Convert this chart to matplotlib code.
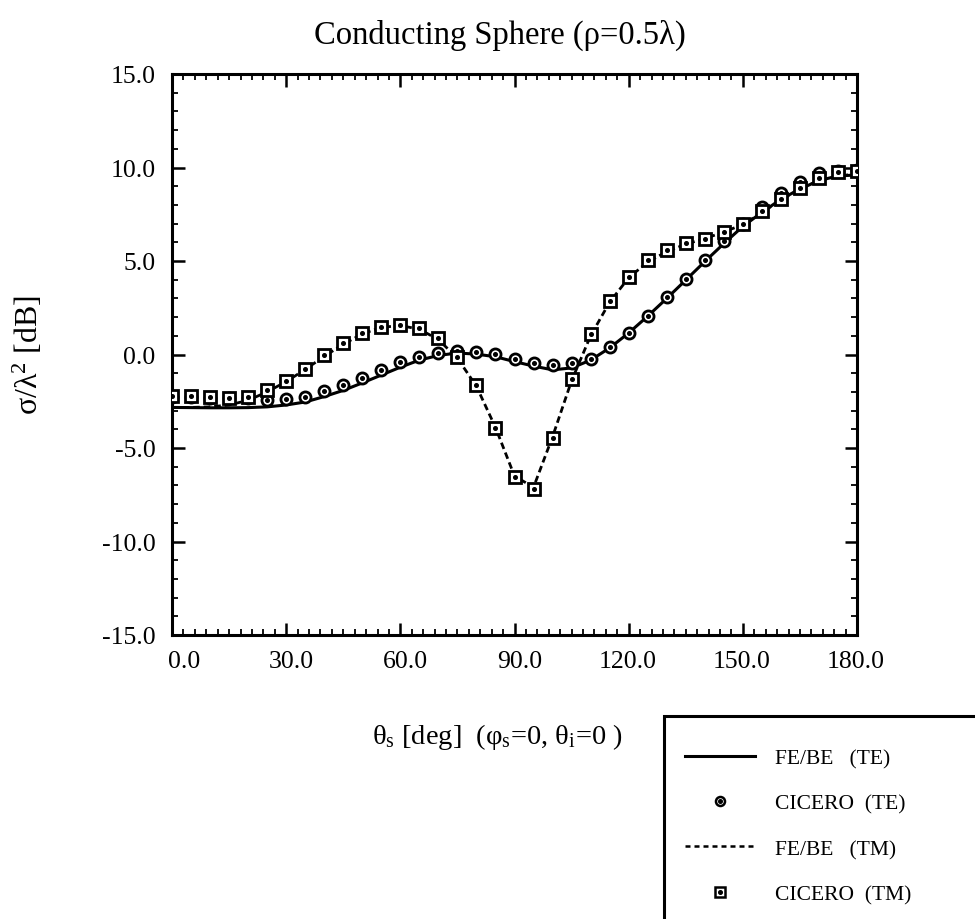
import matplotlib
matplotlib.use("Agg")
import matplotlib.pyplot as plt
import matplotlib.transforms as mtransforms
from matplotlib.lines import Line2D
from matplotlib.patches import Rectangle
from matplotlib.ticker import MultipleLocator, FormatStrFormatter

plt.rcParams['font.family'] = ['Liberation Serif', 'DejaVu Serif']
plt.rcParams['mathtext.fontset'] = 'custom'
plt.rcParams['mathtext.rm'] = 'Liberation Serif'
plt.rcParams['mathtext.it'] = 'Liberation Serif:italic'

# scattering angle, every 5 degrees
theta = list(range(0, 181, 5))

# FE/BE (TE) - solid line
te_febe = [-2.83, -2.84, -2.85, -2.85, -2.84, -2.80, -2.70, -2.54, -2.25, -1.92,
           -1.52, -1.10, -0.68, -0.30, -0.05, 0.08, 0.02, -0.12, -0.38, -0.62,
           -0.82, -0.72, -0.30, 0.35, 1.15, 2.05, 3.00, 3.98, 4.97, 5.93,
           6.85, 7.60, 8.30, 8.85, 9.30, 9.55, 9.60]

# CICERO (TE) - circles
te_cicero = [-2.26, -2.26, -2.31, -2.35, -2.30, -2.45, -2.38, -2.26, -1.97, -1.65,
             -1.24, -0.84, -0.41, -0.14, 0.09, 0.18, 0.14, 0.03, -0.23, -0.44,
             -0.57, -0.48, -0.23, 0.39, 1.16, 2.08, 3.06, 4.06, 5.07, 6.05,
             6.97, 7.91, 8.63, 9.25, 9.69, 9.82, 9.85]

# FE/BE (TM) - dashed line
tm_febe = [-2.83, -2.83, -2.80, -2.70, -2.45, -2.00, -1.45, -0.80, -0.10, 0.55,
           1.10, 1.45, 1.55, 1.35, 0.80, -0.20, -1.70, -3.90, -6.50, -7.10,
           -4.40, -1.40, 1.00, 2.80, 4.10, 4.95, 5.50, 5.90, 6.20, 6.55,
           6.95, 7.60, 8.25, 8.85, 9.30, 9.55, 9.65]

# CICERO (TM) - squares
tm_cicero = [-2.22, -2.24, -2.28, -2.33, -2.25, -1.92, -1.41, -0.77, -0.04, 0.62,
             1.16, 1.49, 1.60, 1.40, 0.87, -0.11, -1.65, -3.91, -6.55, -7.20,
             -4.46, -1.33, 1.12, 2.88, 4.16, 5.03, 5.57, 5.96, 6.19, 6.53,
             6.97, 7.65, 8.31, 8.93, 9.46, 9.78, 9.80]

fig = plt.figure(figsize=(9.75, 9.2), dpi=100)
ax = fig.add_axes([172/975, 1-636/920, 685/975, 561/920])

dash = (0, (2.4, 1.4))
ax.plot(theta, te_febe, color='black', lw=2.2, zorder=2)
ax.plot(theta, tm_febe, color='black', lw=2.0, linestyle=dash, zorder=2)

# markers: open symbol with a small dot in the middle
mk = dict(linestyle='none', markerfacecolor='white', markeredgecolor='black',
          markersize=8, markeredgewidth=2.0)
dot = dict(linestyle='none', marker='o', color='black', markersize=2.6)
ax.plot(theta, te_cicero, marker='o', zorder=3, **mk)
ax.plot(theta, te_cicero, zorder=4, **dot)
ax.plot(theta, tm_cicero, marker='s', zorder=5, **mk)
ax.plot(theta, tm_cicero, zorder=6, **dot)

ax.set_xlim(0, 180)
ax.set_ylim(-15, 15)
ax.xaxis.set_major_locator(MultipleLocator(30))
ax.xaxis.set_minor_locator(MultipleLocator(3))
ax.yaxis.set_major_locator(MultipleLocator(5))
ax.yaxis.set_minor_locator(MultipleLocator(1))
ax.xaxis.set_major_formatter(FormatStrFormatter('%.1f'))
ax.yaxis.set_major_formatter(FormatStrFormatter('%.1f'))
ax.tick_params(which='both', direction='in', top=True, right=True, labelsize=18.5)
ax.tick_params(which='major', length=9, width=1.8)
ax.tick_params(which='minor', length=4, width=1.3)
ax.tick_params(axis='y', pad=12)
ax.tick_params(axis='x', pad=11)
for s in ax.spines.values():
    s.set_linewidth(2.2)

# x tick labels sit right of their ticks in the original
shift = mtransforms.ScaledTranslation(28/100, 0, fig.dpi_scale_trans)
for lab in ax.get_xticklabels():
    lab.set_horizontalalignment('right')
    lab.set_transform(lab.get_transform() + shift)

fig.text(0.513, 1-35/920, 'Conducting Sphere (\u03c1=0.5\u03bb)', ha='center',
         va='center', fontsize=23.5)
fig.text(28/975, 1-355/920, '\u03c3/\u03bb$^2$ [dB]', rotation=90, ha='center',
         va='center', fontsize=23)
fig.text(497/975, 1-737/920,
         '\u03b8$_\\mathrm{s}$ [deg]  (\u03c6$_\\mathrm{s}$=0, \u03b8$_\\mathrm{i}$=0 )',
         ha='center', va='center', fontsize=20.5)

# legend box runs off the right and bottom edges
fig.patches.append(Rectangle((664/975, -0.05), 0.4, 1-717/920 + 0.05,
                             transform=fig.transFigure, facecolor='white',
                             edgecolor='black', lw=2.2, zorder=1))

lmk = dict(mk, markersize=6.5, markeredgewidth=1.8)
handles = [
    Line2D([], [], color='black', lw=2.2),
    (Line2D([], [], marker='o', **lmk), Line2D([], [], **dot)),
    Line2D([], [], color='black', lw=1.8, linestyle=(0, (2.0, 1.6))),
    (Line2D([], [], marker='s', **lmk), Line2D([], [], **dot)),
]
labels = ['FE/BE   (TE)', 'CICERO  (TE)', 'FE/BE   (TM)', 'CICERO  (TM)']
leg = fig.legend(handles, labels, loc='upper left',
                 bbox_to_anchor=(685/975, 1-749/920), frameon=False,
                 borderaxespad=0, borderpad=0, fontsize=15.5,
                 handlelength=3.25, handletextpad=0.93, labelspacing=1.18)
leg.set_zorder(2)

fig.savefig('out.png', dpi=100)
